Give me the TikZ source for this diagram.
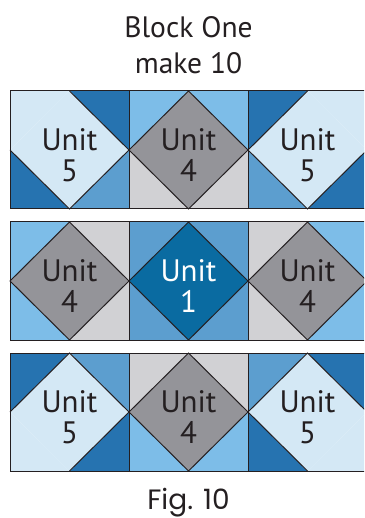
\documentclass[tikz,border=0pt]{standalone}
\usepackage{fontspec}
\setmainfont{PT Sans}
\newfontfamily\figfont{Poppins}
\usetikzlibrary{positioning}
\definecolor{PaleBlue}{rgb}{0.83, 0.91, 0.96}
\definecolor{DarkBlue}{rgb}{0.15, 0.45, 0.69}
\definecolor{MidBlue}{rgb}{0.36, 0.62, 0.81}
\definecolor{SkyBlue}{rgb}{0.49, 0.74, 0.91}
\definecolor{DiamondGray}{rgb}{0.58, 0.58, 0.60}
\definecolor{LightGray}{rgb}{0.82, 0.82, 0.83}
\definecolor{DeepBlue}{rgb}{0.04, 0.42, 0.63}
\definecolor{Ink}{rgb}{0.14, 0.12, 0.13}

% one square: name, corner x, corner y, fills tl, tr, br, bl, centre
\newcommand{\quiltunit}[8]{%
  \begin{scope}[shift={(#2,#3)}]
    \coordinate (#1-tl) at (0,0);
    \coordinate (#1-tr) at (119,0);
    \coordinate (#1-br) at (119,118);
    \coordinate (#1-bl) at (0,118);
    \coordinate (#1-t) at (59.5,0);
    \coordinate (#1-r) at (119,59);
    \coordinate (#1-b) at (59.5,118);
    \coordinate (#1-l) at (0,59);
    \coordinate (#1-c) at (59.5,59);
    \fill [#4] (#1-tl) -- (#1-t) -- (#1-l) -- cycle;
    \fill [#5] (#1-tr) -- (#1-r) -- (#1-t) -- cycle;
    \fill [#6] (#1-br) -- (#1-b) -- (#1-r) -- cycle;
    \fill [#7] (#1-bl) -- (#1-l) -- (#1-b) -- cycle;
    \fill [#8] (#1-t) -- (#1-r) -- (#1-b) -- (#1-l) -- cycle;
  \end{scope}}

\begin{document}
\begin{tikzpicture}[x=1pt, y=-1pt,
    seam/.style={draw=Ink, line width=1pt, line join=miter},
    unitlabel/.style={align=center, inner sep=0pt, text=Ink, font=\fontsize{31}{31}\selectfont},
    heading/.style={anchor=base, inner sep=0pt, text=Ink, font=\fontsize{29.5}{29.5}\selectfont}]
        \clip (0,0) rectangle (364,518);

        % Title
        \node [heading] (title) at (188.5,38) {Block One};
        \node [heading] (count) at (188.5,74) {make 10};

        % Row one
        \quiltunit{a}{10}{91}{PaleBlue}{DarkBlue}{MidBlue}{DarkBlue}{PaleBlue}
        \quiltunit{b}{129}{91}{SkyBlue}{SkyBlue}{LightGray}{LightGray}{DiamondGray}
        \quiltunit{c}{248}{91}{DarkBlue}{PaleBlue}{DarkBlue}{MidBlue}{PaleBlue}
        \draw [seam] (a-t) -- (a-r) -- (a-b) -- (a-l);
        \draw [seam] (b-t) -- (b-r) -- (b-b) -- (b-l) -- cycle;
        \draw [seam] (c-r) -- (c-b) -- (c-l) -- (c-t);
        \draw [seam] (b-tl) -- (b-bl) (c-tl) -- (c-bl);
        \draw [seam] (a-tl) rectangle (c-br);

        % Row two
        \quiltunit{d}{10}{222}{SkyBlue}{LightGray}{LightGray}{SkyBlue}{DiamondGray}
        \quiltunit{e}{129}{222}{MidBlue}{MidBlue}{MidBlue}{MidBlue}{DeepBlue}
        \quiltunit{f}{248}{222}{LightGray}{SkyBlue}{SkyBlue}{LightGray}{DiamondGray}
        \draw [seam] (d-t) -- (d-r) -- (d-b) -- (d-l) -- cycle;
        \draw [seam] (e-t) -- (e-r) -- (e-b) -- (e-l) -- cycle;
        \draw [seam] (f-t) -- (f-r) -- (f-b) -- (f-l) -- cycle;
        \draw [seam] (e-tl) -- (e-bl) (f-tl) -- (f-bl);
        \draw [seam] (d-tl) rectangle (f-br);

        % Row three
        \quiltunit{g}{10}{353}{DarkBlue}{MidBlue}{DarkBlue}{PaleBlue}{PaleBlue}
        \quiltunit{h}{129}{353}{LightGray}{LightGray}{SkyBlue}{SkyBlue}{DiamondGray}
        \quiltunit{i}{248}{353}{MidBlue}{DarkBlue}{PaleBlue}{DarkBlue}{PaleBlue}
        \draw [seam] (g-l) -- (g-t) -- (g-r) -- (g-b);
        \draw [seam] (h-t) -- (h-r) -- (h-b) -- (h-l) -- cycle;
        \draw [seam] (i-b) -- (i-l) -- (i-t) -- (i-r);
        \draw [seam] (h-tl) -- (h-bl) (i-tl) -- (i-bl);
        \draw [seam] (g-tl) rectangle (i-br);

        % Unit labels
        \node [unitlabel] (a-text) at ([yshift=-5.5pt]a-c) {Unit\\5};
        \node [unitlabel] (b-text) at ([yshift=-5.5pt]b-c) {Unit\\4};
        \node [unitlabel] (c-text) at ([yshift=-5.5pt]c-c) {Unit\\5};
        \node [unitlabel] (d-text) at ([yshift=-5.5pt]d-c) {Unit\\4};
        \node [unitlabel, text=white] (e-text) at ([yshift=-5.5pt]e-c) {Unit\\1};
        \node [unitlabel] (f-text) at ([yshift=-5.5pt]f-c) {Unit\\4};
        \node [unitlabel] (g-text) at ([yshift=-5.5pt]g-c) {Unit\\5};
        \node [unitlabel] (h-text) at ([yshift=-5.5pt]h-c) {Unit\\4};
        \node [unitlabel] (i-text) at ([yshift=-5.5pt]i-c) {Unit\\5};

        % Caption
        \node [heading, font=\figfont\fontsize{28}{28}\selectfont] (fig) at (188.5,509) {Fig. 10};
    \end{tikzpicture}
\end{document}
